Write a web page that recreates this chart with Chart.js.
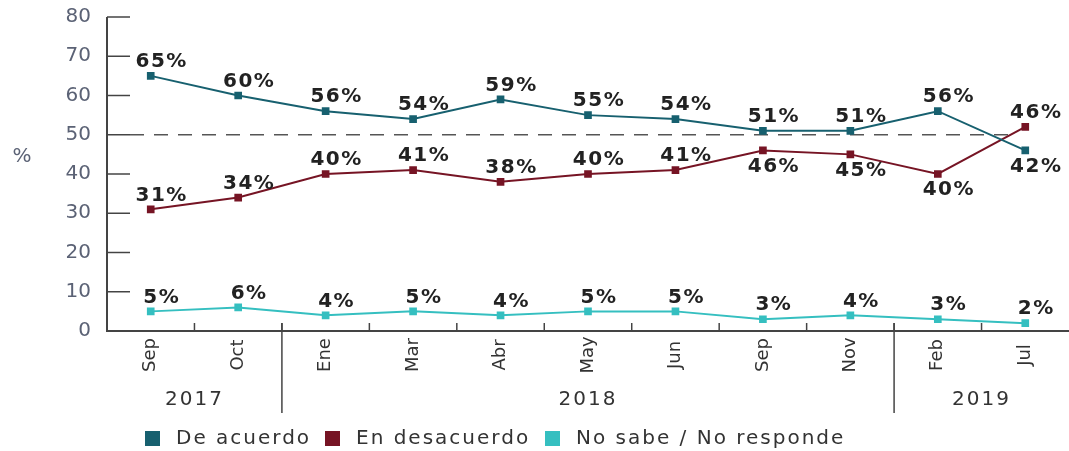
<!DOCTYPE html>
<html>
<head>
<meta charset="utf-8">
<script src="https://cdn.jsdelivr.net/npm/chart.js@4.4.0/dist/chart.umd.min.js"></script>
<style>
  html,body{margin:0;padding:0;background:#fff;overflow:hidden;}
  #wrap{width:1069px;height:451px;}
</style>
</head>
<body>
<div id="wrap"><canvas id="chart" width="1069" height="451"></canvas></div>
<script>
const months = ["Sep","Oct","Ene","Mar","Abr","May","Jun","Sep","Nov","Feb","Jul"];
const years = [["2017",0,1],["2018",2,8],["2019",9,10]];
const yTicks = [0,10,20,30,40,50,60,70,80];

// values as plotted
const deAcuerdo   = [65,60,56,54,59,55,54,51,51,56,46];
const enDesacuerdo= [31,34,40,41,38,40,41,46,45,40,52];
const noSabe      = [5,6,4,5,4,5,5,3,4,3,2];

// printed labels (the last two differ from their markers in the original)
const deAcuerdoTxt    = ["65%","60%","56%","54%","59%","55%","54%","51%","51%","56%","42%"];
const enDesacuerdoTxt = ["31%","34%","40%","41%","38%","40%","41%","46%","45%","40%","46%"];
const noSabeTxt       = ["5%","6%","4%","5%","4%","5%","5%","3%","4%","3%","2%"];
// where each label goes: 1 above, -1 below
const deAcuerdoPos    = [1,1,1,1,1,1,1,1,1,1,-1];
const enDesacuerdoPos = [1,1,1,1,1,1,1,-1,-1,-1,1];
const noSabePos       = [1,1,1,1,1,1,1,1,1,1,1];

const colors = ["#17606f","#761424","#35bfc0"];
const names = ["De acuerdo","En desacuerdo","No sabe / No responde"];
const legendX = [145,325,545];
const labelTxt = [deAcuerdoTxt,enDesacuerdoTxt,noSabeTxt];
const labelPos = [deAcuerdoPos,enDesacuerdoPos,noSabePos];

const FONT = "'DejaVu Sans', sans-serif";
const axisColor = "#444";

const extras = {
  id:"extras",
  afterDraw(chart){
    const ctx = chart.ctx, x = chart.scales.x, y = chart.scales.y, a = chart.chartArea;
    ctx.save();
    // axes
    ctx.strokeStyle = axisColor; ctx.lineWidth = 2;
    ctx.beginPath();
    ctx.moveTo(a.left, y.getPixelForValue(80)); ctx.lineTo(a.left, y.getPixelForValue(0));
    ctx.lineTo(1069, y.getPixelForValue(0));
    ctx.stroke();
    // inward y ticks + labels
    ctx.lineWidth = 1.5;
    ctx.fillStyle = "#5b6275";
    ctx.font = "20px "+FONT;
    ctx.textAlign = "right"; ctx.textBaseline = "middle";
    y.ticks.forEach(t=>{
      const py = y.getPixelForValue(t.value);
      ctx.beginPath(); ctx.moveTo(a.left, py); ctx.lineTo(a.left+23, py); ctx.stroke();
      ctx.fillText(String(t.value), 91, py);
    });
    // x ticks between categories
    const base = y.getPixelForValue(0);
    for(let i=1;i<months.length;i++){
      const px = (x.getPixelForValue(i-1)+x.getPixelForValue(i))/2;
      ctx.beginPath(); ctx.moveTo(px, base); ctx.lineTo(px, base-8); ctx.stroke();
    }
    // year separators
    [1,8].forEach(i=>{
      const px = (x.getPixelForValue(i)+x.getPixelForValue(i+1))/2;
      ctx.beginPath(); ctx.moveTo(px, base-8); ctx.lineTo(px, 413); ctx.stroke();
    });
    // month labels, rotated
    ctx.fillStyle = "#333";
    ctx.font = "18px "+FONT;
    ctx.textAlign = "center";
    months.forEach((m,i)=>{
      ctx.save();
      ctx.translate(x.getPixelForValue(i), 355);
      ctx.rotate(-Math.PI/2);
      ctx.fillText(m,0,0);
      ctx.restore();
    });
    // years
    ctx.font = "20px "+FONT;
    ctx.letterSpacing = "2px";
    years.forEach(([t,s,e])=>{
      const px = (x.getPixelForValue(s)+x.getPixelForValue(e))/2;
      ctx.fillText(t, px, 400);
    });
    // % title
    ctx.letterSpacing = "0px";
    ctx.fillStyle = "#5b6275";
    ctx.fillText("%", 22, 157);
    // legend
    ctx.textAlign = "left";
    ctx.letterSpacing = "2px";
    names.forEach((n,i)=>{
      ctx.fillStyle = colors[i];
      ctx.fillRect(legendX[i], 431, 15, 15);
      ctx.fillStyle = "#333";
      ctx.fillText(n, legendX[i]+31, 439);
    });
    ctx.restore();
  },
  beforeDatasetsDraw(chart){
    const ctx = chart.ctx, y = chart.scales.y;
    ctx.save();
    ctx.strokeStyle = "#555"; ctx.lineWidth = 1.5;
    ctx.setLineDash([14,10]);
    const py = y.getPixelForValue(50);
    ctx.beginPath(); ctx.moveTo(130, py); ctx.lineTo(1015, py); ctx.stroke();
    ctx.restore();
  },
  afterDatasetsDraw(chart){
    const ctx = chart.ctx;
    ctx.save();
    ctx.fillStyle = "#222";
    ctx.font = "bold 20px "+FONT;
    ctx.letterSpacing = "1.5px";
    ctx.textAlign = "center";
    chart.data.datasets.forEach((ds,di)=>{
      chart.getDatasetMeta(di).data.forEach((p,i)=>{
        const up = labelPos[di][i] > 0;
        ctx.textBaseline = up ? "bottom" : "top";
        ctx.fillText(labelTxt[di][i], p.x+11, up ? p.y-4 : p.y+6);
      });
    });
    ctx.restore();
  }
};

new Chart(document.getElementById("chart"), {
  type:"line",
  data:{
    labels: months,
    datasets:[deAcuerdo,enDesacuerdo,noSabe].map((d,i)=>({
      label:names[i], data:d,
      borderColor:colors[i], backgroundColor:colors[i],
      borderWidth:2, pointStyle:"rect", pointRadius:4, tension:0, clip:false
    }))
  },
  options:{
    responsive:false, animation:false,
    layout:{autoPadding:false, padding:{top:17,right:-8,left:0,bottom:0}},
    plugins:{legend:{display:false}, tooltip:{enabled:false}},
    scales:{
      x:{
        offset:true,
        grid:{display:false}, border:{display:false},
        ticks:{display:false},
        afterFit(s){ s.height = 120; }
      },
      y:{
        min:0, max:80,
        afterBuildTicks(s){ s.ticks = yTicks.map(v=>({value:v})); },
        grid:{display:false}, border:{display:false},
        ticks:{display:false},
        afterFit(s){ s.width = 107; }
      }
    }
  },
  plugins:[extras]
});
</script>
</body>
</html>
